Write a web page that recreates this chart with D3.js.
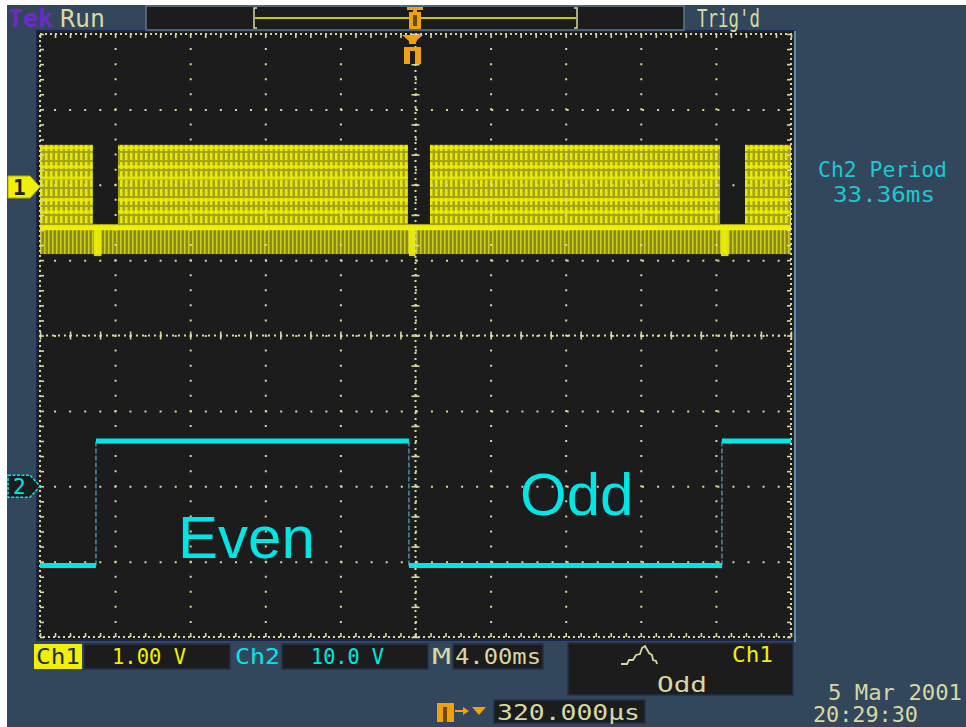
<!DOCTYPE html>
<html>
<head>
<meta charset="utf-8">
<title>Tek scope - even / odd field</title>
<script src="https://cdn.jsdelivr.net/npm/d3@7"></script>
<style>
  html, body { margin: 0; padding: 0; background: #fff; }
  svg { display: block; }
  .mono { font-family: "DejaVu Sans Mono", monospace; }
</style>
</head>
<body>
<svg id="scope"></svg>
<script>
// ---- data ----
const timeDomain = [-20, 20];            // ms, 4.00 ms/div, trigger at centre
const divDomain = [-4, 4];               // vertical divisions
const ch1VoltsPerDiv = 1.0, ch1GroundDiv = 1.97;
const ch2VoltsPerDiv = 10.0, ch2GroundDiv = -2.0;

// ch1 composite video (V)
const ch1BandTop = 0.56, ch1BandBottom = -0.89;
const ch1SyncLevel = -0.54, ch1BlankFloor = -0.49;
const ch1LumaStripes = [0.52, 0.27, 0.12, -0.17, -0.33];
const ch1BlankStart = [-17.18, -0.40, 16.22];   // ms
const ch1BlankEnd = [-15.85, 0.77, 17.55];      // ms

// ch2 field square wave
const ch2Edges = [-17.02, -0.35, 16.32];        // ms
const ch2States = ["low", "high", "low", "high"];
const ch2Low = -10.5, ch2High = 6.0;            // V

// readouts
const ch1Scale = "1.00 V", ch2Scale = "10.0 V", timeScale = "4.00ms";
const trigDelay = "320.000\u00b5s", periodLabel = "Ch2 Period", periodValue = "33.36ms";
const fieldLabels = ["Even", "Odd"];
const dateLines = ["5 Mar 2001", "20:29:30"];

// ---- colours ----
const BLUE = "#32475b", NAVY = "#1a2450", BLACK = "#1c1c1c", CREAM = "#d8d8a2";
const YELLOW = "#f0f000", CYAN = "#00e6e6", ORANGE = "#f2a010", PURPLE = "#6e2ac8";

const W = 966, H = 727;
const X0 = 40, X1 = 791, Y0 = 34, Y1 = 637;

const svg = d3.select("#scope").attr("width", W).attr("height", H);

const x = d3.scaleLinear().domain(timeDomain).range([X0, X1]);
const yDiv = d3.scaleLinear().domain(divDomain).range([Y1, Y0]);
const y1 = v => yDiv(v / ch1VoltsPerDiv + ch1GroundDiv);
const y2 = v => yDiv(v / ch2VoltsPerDiv + ch2GroundDiv);
const msPerDiv = (timeDomain[1] - timeDomain[0]) / 10;
const minorY = (Y1 - Y0) / 40;

// background
svg.append("rect").attr("width", W).attr("height", H).attr("fill", "#fff");
svg.append("rect").attr("x", 7).attr("y", 5).attr("width", W - 7).attr("height", H - 5).attr("fill", BLUE);

const defs = svg.append("defs");
const luma = defs.append("pattern").attr("id", "lumaTex")
  .attr("patternUnits", "userSpaceOnUse").attr("width", 5).attr("height", 9);
luma.append("rect").attr("width", 5).attr("height", 9).attr("fill", "#a4a41a");
luma.append("rect").attr("width", 2.5).attr("height", 7).attr("fill", YELLOW).attr("opacity", 0.9);
const sync = defs.append("pattern").attr("id", "syncTex")
  .attr("patternUnits", "userSpaceOnUse").attr("width", 4).attr("height", 40);
sync.append("rect").attr("width", 4).attr("height", 40).attr("fill", "#8a8a1e");
sync.append("rect").attr("width", 1.5).attr("height", 40).attr("fill", "#cccc1c");

// screen
svg.append("rect").attr("x", X0 - 3).attr("y", Y0 - 3).attr("width", X1 - X0 + 6).attr("height", Y1 - Y0 + 6)
  .attr("fill", BLACK).attr("stroke", NAVY).attr("stroke-width", 2);
svg.append("line").attr("x1", X1 + 4).attr("x2", X1 + 4).attr("y1", Y0 - 3).attr("y2", Y1 + 5)
  .attr("stroke", "#6a8aa4").attr("stroke-width", 2);

// ---- ch1 video band ----
const ch1 = svg.append("g");
ch1.append("rect").attr("x", X0).attr("width", X1 - X0)
  .attr("y", y1(ch1BandTop)).attr("height", y1(ch1SyncLevel) - y1(ch1BandTop))
  .attr("fill", "url(#lumaTex)");
ch1.append("rect").attr("x", X0).attr("width", X1 - X0)
  .attr("y", y1(ch1SyncLevel)).attr("height", y1(ch1BandBottom) - y1(ch1SyncLevel))
  .attr("fill", "url(#syncTex)");
ch1.selectAll("line.stripe").data(ch1LumaStripes).join("line").attr("class", "stripe")
  .attr("x1", X0).attr("x2", X1).attr("y1", d => y1(d)).attr("y2", d => y1(d))
  .attr("stroke", YELLOW).attr("stroke-width", 3).attr("opacity", 0.8);
ch1.append("line").attr("x1", X0).attr("x2", X1)
  .attr("y1", y1(ch1SyncLevel)).attr("y2", y1(ch1SyncLevel))
  .attr("stroke", YELLOW).attr("stroke-width", 5);
const blanks = d3.zip(ch1BlankStart, ch1BlankEnd);
ch1.selectAll("rect.blank").data(blanks).join("rect").attr("class", "blank")
  .attr("x", d => x(d[0])).attr("width", d => x(d[1]) - x(d[0]))
  .attr("y", y1(ch1BandTop) - 4).attr("height", y1(ch1BlankFloor) - y1(ch1BandTop) + 4)
  .attr("fill", BLACK);
ch1.selectAll("rect.vsync").data(blanks).join("rect").attr("class", "vsync")
  .attr("x", d => x(d[0]) + 1).attr("width", d => (x(d[1]) - x(d[0])) * 0.3)
  .attr("y", y1(ch1SyncLevel)).attr("height", y1(ch1BandBottom) - y1(ch1SyncLevel) + 2)
  .attr("fill", YELLOW).attr("opacity", 0.9);

// ---- graticule ----
const grid = svg.append("g");
const gx = grid.append("g").attr("transform", `translate(0,${Y0})`)
  .call(d3.axisBottom(x).tickValues(d3.range(-4, 5).map(d => d * msPerDiv)).tickSize(Y1 - Y0).tickFormat(""));
const gy = grid.append("g").attr("transform", `translate(${X0},0)`)
  .call(d3.axisRight(yDiv).tickValues(d3.range(-3, 4)).tickSize(X1 - X0).tickFormat(""));
[gx, gy].forEach(g => {
  g.select(".domain").remove();
  g.selectAll("line").attr("stroke", CREAM).attr("stroke-width", 2)
    .attr("stroke-dasharray", `2 ${minorY - 2}`).attr("stroke-dashoffset", 1);
});
// centre axes
grid.append("line").attr("x1", X0).attr("x2", X1).attr("y1", yDiv(0)).attr("y2", yDiv(0))
  .attr("stroke", CREAM).attr("stroke-width", 2).attr("stroke-dasharray", "2 4");
grid.append("line").attr("x1", x(0)).attr("x2", x(0)).attr("y1", Y0).attr("y2", Y1)
  .attr("stroke", CREAM).attr("stroke-width", 2).attr("stroke-dasharray", "2 4");
const cx = grid.append("g").attr("transform", `translate(0,${yDiv(0) - 4})`)
  .call(d3.axisBottom(x).tickValues(d3.range(timeDomain[0], timeDomain[1] + 0.01, msPerDiv / 2.5)).tickSize(8).tickFormat(""));
const cy = grid.append("g").attr("transform", `translate(${x(0) - 4},0)`)
  .call(d3.axisRight(yDiv).tickValues(d3.range(-4, 4.01, 0.4)).tickSize(8).tickFormat(""));
// frame rulers
const ft = grid.append("g").attr("transform", `translate(0,${Y0})`)
  .call(d3.axisBottom(x).tickValues(d3.range(timeDomain[0], timeDomain[1] + 0.01, msPerDiv / 5)).tickSize(4).tickFormat(""));
const fb = grid.append("g").attr("transform", `translate(0,${Y1})`)
  .call(d3.axisTop(x).tickValues(d3.range(timeDomain[0], timeDomain[1] + 0.01, msPerDiv / 5)).tickSize(4).tickFormat(""));
const fl = grid.append("g").attr("transform", `translate(${X0},0)`)
  .call(d3.axisRight(yDiv).tickValues(d3.range(-4, 4.01, 0.2)).tickSize(4).tickFormat(""));
const fr = grid.append("g").attr("transform", `translate(${X1},0)`)
  .call(d3.axisLeft(yDiv).tickValues(d3.range(-4, 4.01, 0.2)).tickSize(4).tickFormat(""));
[cx, cy, ft, fb, fl, fr].forEach(g => {
  g.select(".domain").remove();
  g.selectAll("line").attr("stroke", CREAM).attr("stroke-width", 1.6);
});
grid.append("rect").attr("x", X0).attr("y", Y0).attr("width", X1 - X0).attr("height", Y1 - Y0)
  .attr("fill", "none").attr("stroke", CREAM).attr("stroke-width", 2).attr("stroke-dasharray", "2 3");

// ---- ch2 square wave ----
const bounds = [timeDomain[0], ...ch2Edges, timeDomain[1]];
const levelOf = s => s === "high" ? ch2High : ch2Low;
const ch2 = svg.append("g");
ch2.selectAll("line.edge").data(ch2Edges).join("line").attr("class", "edge")
  .attr("x1", d => x(d)).attr("x2", d => x(d))
  .attr("y1", y2(ch2Low)).attr("y2", y2(ch2High))
  .attr("stroke", "#4f84a0").attr("stroke-width", 1.6).attr("stroke-dasharray", "5 2");
ch2.selectAll("line.lvl").data(d3.pairs(bounds).map((p, i) => [p[0], p[1], ch2States[i]])).join("line")
  .attr("class", "lvl")
  .attr("x1", d => x(d[0])).attr("x2", d => x(d[1]))
  .attr("y1", d => y2(levelOf(d[2]))).attr("y2", d => y2(levelOf(d[2])))
  .attr("stroke", CYAN).attr("stroke-width", 5);

svg.append("text").attr("x", 178).attr("y", 558).text(fieldLabels[0])
  .attr("font-family", "Liberation Sans, Arial, sans-serif").attr("font-size", 60).attr("fill", CYAN);
svg.append("text").attr("x", 520).attr("y", 515).text(fieldLabels[1])
  .attr("font-family", "Liberation Sans, Arial, sans-serif").attr("font-size", 60).attr("fill", CYAN);

// ---- channel markers ----
const flag = (yc) => `M8,${yc - 11}H30L40,${yc}L30,${yc + 11}H8Z`;
svg.append("path").attr("d", flag(y1(0))).attr("fill", YELLOW).attr("stroke", "#b0b000");
svg.append("text").attr("class", "mono").attr("x", 13).attr("y", y1(0) + 8).text("1")
  .attr("font-size", 21).attr("font-weight", "bold").attr("fill", "#202020");
svg.append("path").attr("d", flag(y2(0))).attr("fill", BLACK).attr("stroke", CYAN)
  .attr("stroke-width", 1.5).attr("stroke-dasharray", "3 1.5");
svg.append("text").attr("class", "mono").attr("x", 13).attr("y", y2(0) + 8).text("2")
  .attr("font-size", 21).attr("fill", CYAN);

// ---- text helper ----
function label(t, x0, x1, base, size, fill, extra) {
  const el = svg.append("text").attr("class", "mono").attr("x", x0).attr("y", base).text(t)
    .attr("font-size", size).attr("fill", fill)
    .attr("textLength", x1 - x0).attr("lengthAdjust", "spacingAndGlyphs");
  if (extra) el.attr("font-weight", extra);
  return el;
}

// ---- top bar ----
label("Tek", 8, 53, 27, 25, PURPLE, "bold");
label("Run", 60, 105, 27, 25, CREAM);
svg.append("rect").attr("x", 146).attr("y", 6).attr("width", 538).attr("height", 24)
  .attr("fill", BLACK).attr("stroke", "#5a7890").attr("stroke-width", 1.5);
svg.append("line").attr("x1", 255).attr("x2", 576).attr("y1", 18).attr("y2", 18)
  .attr("stroke", "#c8c800").attr("stroke-width", 2);
svg.append("path").attr("d", "M257,8H254V28H257 M574,8H577V28H574")
  .attr("fill", "none").attr("stroke", CREAM).attr("stroke-width", 1.5);
svg.append("path").attr("d", "M407,7H423V10H417V12H421V29H409V12H413V10H407Z").attr("fill", ORANGE);
svg.append("rect").attr("x", 413).attr("y", 15).attr("width", 4).attr("height", 11).attr("fill", "#6a4a10");
label("Trig'd", 697, 760, 27, 25, CREAM);

// trigger position marker
svg.append("path").attr("d", "M402,35H423L416,41V44H409V41Z").attr("fill", ORANGE);
svg.append("rect").attr("x", 404).attr("y", 47).attr("width", 17).attr("height", 17).attr("fill", ORANGE);
svg.append("rect").attr("x", 410).attr("y", 51).attr("width", 5).attr("height", 13).attr("fill", BLACK);

// ---- right readout ----
label(periodLabel, 818, 947, 177, 21, "#1cc8d2");
label(periodValue, 833, 935, 202, 21, "#1cc8d2");

// ---- bottom readouts ----
const box = (bx, by, bw, bh) => svg.append("rect").attr("x", bx).attr("y", by).attr("width", bw).attr("height", bh)
  .attr("fill", BLACK).attr("stroke", "#24304a").attr("stroke-width", 1.5);
svg.append("rect").attr("x", 34).attr("y", 644).attr("width", 48).attr("height", 25).attr("fill", YELLOW);
label("Ch1", 36, 80, 664, 22, "#1e2c44");
box(84, 644, 146, 25); label(ch1Scale, 112, 186, 664, 22, YELLOW);
label("Ch2", 235, 280, 664, 22, CYAN);
box(282, 644, 146, 25); label(ch2Scale, 311, 384, 664, 22, CYAN);
label("M", 432, 451, 664, 22, CREAM);
box(453, 644, 90, 25); label(timeScale, 455, 541, 664, 22, CREAM);
box(568, 643, 225, 52);
svg.append("path").attr("d", "M621,664L627,664L629,660L633,660L636,655L640,654L642,648L645,646L649,653L652,655L653,660L656,661L657,664")
  .attr("fill", "none").attr("stroke", CREAM).attr("stroke-width", 1.8);
label("Ch1", 732, 773, 662, 22, YELLOW);
label("Odd", 657, 707, 692, 22, CREAM);

svg.append("rect").attr("x", 437).attr("y", 703).attr("width", 17).attr("height", 19).attr("fill", ORANGE);
svg.append("rect").attr("x", 443).attr("y", 707).attr("width", 4).attr("height", 15).attr("fill", "#6a4a10");
svg.append("path").attr("d", "M455,711H466").attr("stroke", ORANGE).attr("stroke-width", 2);
svg.append("path").attr("d", "M463,707L469,711L463,715Z M472,707H486L479,715Z").attr("fill", ORANGE);
box(494, 700, 151, 23); label(trigDelay, 497, 640, 720, 22, CREAM);

label(dateLines[0], 828, 962, 700, 21, CREAM);
label(dateLines[1], 813, 918, 722, 21, CREAM);
</script>
</body>
</html>
